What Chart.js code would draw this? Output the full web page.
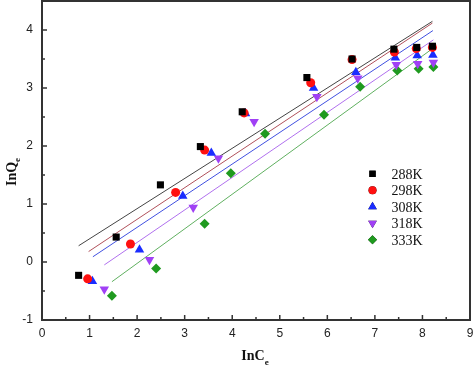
<!DOCTYPE html>
<html>
<head>
<meta charset="utf-8">
<script src="https://cdn.jsdelivr.net/npm/chart.js@4.4.1/dist/chart.umd.min.js"></script>
<style>
  html, body { margin: 0; padding: 0; background: #fff; }
  #wrap { width: 474px; height: 368px; }
</style>
</head>
<body>
<div id="wrap"><canvas id="chart" width="474" height="368"></canvas></div>
<script>
// Series data (lnCe, lnQe)
const seriesNames = ['288K', '298K', '308K', '318K', '333K'];

const x288 = [0.77, 1.56, 2.49, 3.33, 4.21, 5.57, 6.52, 7.40, 7.88, 8.21];
const y288 = [-0.23, 0.43, 1.33, 1.99, 2.59, 3.18, 3.50, 3.67, 3.70, 3.72];

const x298 = [0.96, 1.86, 2.81, 3.42, 4.25, 5.65, 6.52, 7.41, 7.87, 8.21];
const y298 = [-0.29, 0.31, 1.20, 1.93, 2.57, 3.09, 3.49, 3.62, 3.68, 3.70];

const x308 = [1.06, 2.05, 2.96, 3.56, 4.28, 5.71, 6.60, 7.43, 7.89, 8.22];
const y308 = [-0.33, 0.21, 1.14, 1.88, 2.56, 3.00, 3.27, 3.52, 3.56, 3.57];

const x318 = [1.31, 2.26, 3.18, 3.71, 4.46, 5.78, 6.64, 7.45, 7.90, 8.23];
const y318 = [-0.47, 0.04, 0.94, 1.79, 2.42, 2.85, 3.17, 3.40, 3.42, 3.44];

const x333 = [1.47, 2.40, 3.42, 3.97, 4.69, 5.93, 6.69, 7.47, 7.92, 8.23];
const y333 = [-0.58, -0.11, 0.66, 1.53, 2.21, 2.54, 3.02, 3.30, 3.33, 3.36];

// Fitted line end points (start x, start y, end x, end y)
const fit288 = [0.77, 0.28, 8.21, 4.15];
const fit298 = [0.98, 0.18, 8.21, 4.12];
const fit308 = [1.07, 0.09, 8.22, 3.99];
const fit318 = [1.31, -0.05, 8.23, 3.83];
const fit333 = [1.47, -0.34, 8.23, 3.69];

const xTicks = [0, 1, 2, 3, 4, 5, 6, 7, 8, 9];
const yTicks = [-1, 0, 1, 2, 3, 4];

const markerColors = ['#000000', '#ff1010', '#1a2cff', '#a040f5', '#1f9a1f'];
const lineColors = ['#444444', '#b0505a', '#4050e0', '#b070ee', '#60b060'];
const markerStyles = ['rect', 'circle', 'triangle', 'triangle', 'rectRot'];
const markerRotation = [0, 0, 0, 180, 0];
const markerRadius = [5, 4.5, 5.5, 5.5, 5];

const xs = [x288, x298, x308, x318, x333];
const ys = [y288, y298, y308, y318, y333];
const fits = [fit288, fit298, fit308, fit318, fit333];

function toPoints(xa, ya) {
    return xa.map((v, i) => ({ x: v, y: ya[i] }));
}

// Build datasets: fit lines first (drawn under markers)
const datasets = [];
fits.forEach((f, i) => {
    datasets.push({
        label: 'fit ' + seriesNames[i],
        data: [{ x: f[0], y: f[1] }, { x: f[2], y: f[3] }],
        showLine: true,
        borderColor: lineColors[i],
        borderWidth: 1,
        pointRadius: 0,
        fill: false,
        order: 10
    });
});
xs.forEach((xa, i) => {
    datasets.push({
        label: seriesNames[i],
        data: toPoints(xa, ys[i]),
        showLine: false,
        pointStyle: markerStyles[i],
        rotation: markerRotation[i],
        pointRadius: markerRadius[i],
        pointBackgroundColor: markerColors[i],
        pointBorderColor: markerColors[i],
        pointBorderWidth: 0,
        order: 1
    });
});

// Frame, inward ticks, axis titles and legend
const decorPlugin = {
    id: 'decor',
    afterDraw(chart) {
        const { ctx, chartArea: a, scales: { x, y } } = chart;
        ctx.save();
        ctx.strokeStyle = '#333';
        ctx.lineWidth = 2;
        ctx.strokeRect(a.left, a.top, a.right - a.left, a.bottom - a.top);

        ctx.lineWidth = 1.5;
        ctx.beginPath();
        for (let v = 0; v <= 9; v += 0.5) {
            const px = x.getPixelForValue(v);
            const len = Number.isInteger(v) ? 5 : 3;
            ctx.moveTo(px, a.bottom);
            ctx.lineTo(px, a.bottom - len);
        }
        for (let v = -1; v <= 4.5; v += 0.5) {
            const py = y.getPixelForValue(v);
            const len = Number.isInteger(v) ? 5 : 3;
            ctx.moveTo(a.left, py);
            ctx.lineTo(a.left + len, py);
        }
        ctx.stroke();

        // axis titles with subscript
        ctx.fillStyle = '#111';
        ctx.textBaseline = 'alphabetic';
        ctx.font = 'bold 14px "Liberation Serif", "Times New Roman", serif';
        const mainX = 'InC';
        const wX = ctx.measureText(mainX).width;
        const cx = (a.left + a.right) / 2;
        const startX = cx - (wX + 6) / 2;
        ctx.textAlign = 'left';
        ctx.fillText(mainX, startX, 360);
        ctx.font = 'bold 9px "Liberation Serif", "Times New Roman", serif';
        ctx.fillText('e', startX + wX, 365);

        ctx.save();
        ctx.translate(16, 171);
        ctx.rotate(-Math.PI / 2);
        ctx.font = 'bold 14px "Liberation Serif", "Times New Roman", serif';
        const mainY = 'InQ';
        const wY = ctx.measureText(mainY).width;
        const sy = -(wY + 6) / 2;
        ctx.fillText(mainY, sy, 0);
        ctx.font = 'bold 9px "Liberation Serif", "Times New Roman", serif';
        ctx.fillText('e', sy + wY, 4);
        ctx.restore();

        // legend
        const legX = x.getPixelForValue(6.95);
        const legY0 = y.getPixelForValue(1.52);
        const step = 16.5;
        ctx.font = '14px "Liberation Serif", "Times New Roman", serif';
        ctx.textBaseline = 'middle';
        seriesNames.forEach((name, i) => {
            const yy = legY0 + i * step;
            Chart.helpers.drawPoint(ctx, {
                pointStyle: markerStyles[i],
                rotation: markerRotation[i],
                radius: markerRadius[i] - 0.5,
                borderWidth: 0
            }, legX, yy);
            ctx.fillStyle = markerColors[i];
            ctx.fill();
            ctx.fillStyle = '#111';
            ctx.fillText(name, legX + 19, yy + 1);
        });
        ctx.restore();
    }
};

new Chart(document.getElementById('chart'), {
    type: 'scatter',
    data: { datasets: datasets },
    options: {
        responsive: false,
        animation: false,
        devicePixelRatio: 1,
        layout: { autoPadding: false, padding: { top: 1, right: 4, left: 0, bottom: 0 } },
        plugins: {
            legend: { display: false },
            tooltip: { enabled: false }
        },
        scales: {
            x: {
                type: 'linear',
                min: 0,
                max: 9,
                grid: { display: false, drawTicks: false },
                border: { display: false },
                ticks: {
                    padding: 6,
                    color: '#222',
                    font: { family: '"Liberation Sans", Arial, sans-serif', size: 12 }
                },
                afterBuildTicks: s => { s.ticks = xTicks.map(v => ({ value: v })); },
                afterFit: s => { s.height = 48; s.paddingLeft = 0; s.paddingRight = 0; }
            },
            y: {
                type: 'linear',
                min: -1,
                max: 4.5,
                grid: { display: false, drawTicks: false },
                border: { display: false },
                ticks: {
                    padding: 9,
                    color: '#222',
                    font: { family: '"Liberation Sans", Arial, sans-serif', size: 12 }
                },
                afterBuildTicks: s => { s.ticks = yTicks.map(v => ({ value: v })); },
                afterFit: s => { s.width = 42; s.paddingTop = 0; s.paddingBottom = 0; }
            }
        }
    },
    plugins: [decorPlugin]
});
</script>
</body>
</html>
